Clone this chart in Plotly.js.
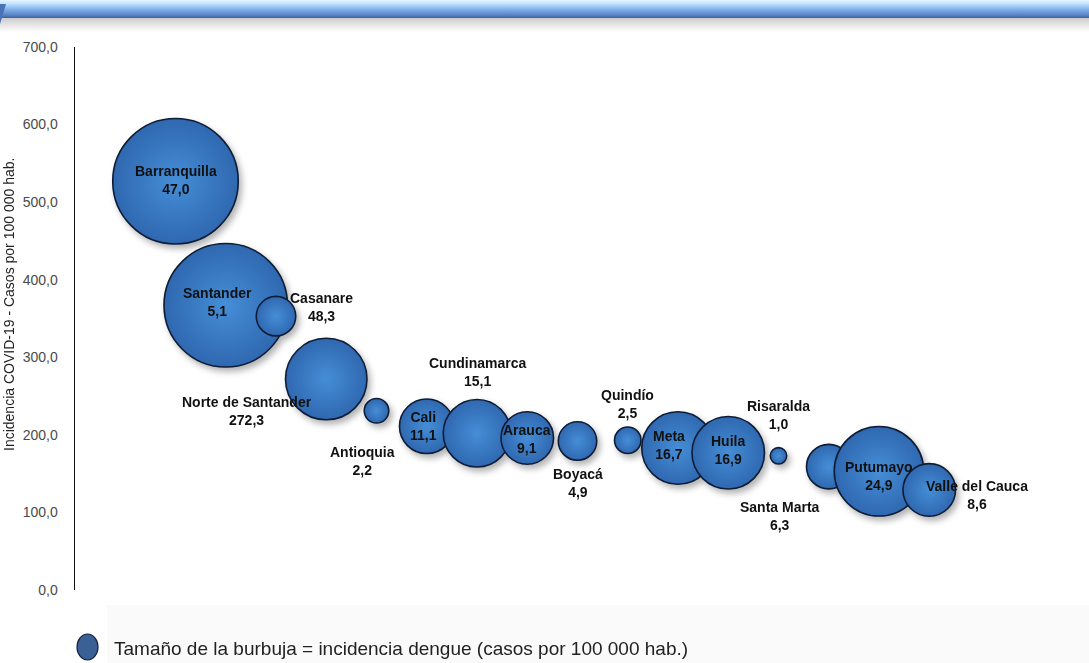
<!DOCTYPE html>
<html>
<head>
<meta charset="utf-8">
<script src="https://cdn.plot.ly/plotly-3.0.1.min.js"></script>
<style>
  html, body { margin:0; padding:0; background:#fff; }
  #wrap { position:relative; width:1089px; height:663px; overflow:hidden; }
  #graybg { position:absolute; left:107px; top:605px; width:982px; height:58px; background:#fafafa; }
  #chart { position:absolute; left:0; top:0; width:1089px; height:663px; }
  #banner { position:absolute; left:0; top:0; width:1089px; height:18px;
    background:linear-gradient(#e6f5ff 0%, #bfe1ff 22%, #8cb9ee 46%, #6d9ad9 68%, #5580c2 86%, #3d5f9a 100%); }
  #bannerShadow { position:absolute; left:0; top:18px; width:1089px; height:14px;
    background:linear-gradient(rgba(0,0,0,0.2), rgba(0,0,0,0)); }
  #notch { position:absolute; left:0; top:4px; width:0; height:0;
    border-left:6px solid #4a72b5; border-top:0 solid transparent; border-bottom:20px solid transparent; }
  .scatterlayer .trace { filter: drop-shadow(3px 4px 3px rgba(0,0,0,0.3)); }
</style>
</head>
<body>
<div id="wrap">
  <div id="graybg"></div>
  <div id="chart"></div>
  <div id="banner"></div>
  <div id="bannerShadow"></div>
  <div id="notch"></div>
</div>
<script>
// ---- Data ----
const places = ["Barranquilla","Santander","Casanare","Norte de Santander","Antioquia","Cali",
  "Cundinamarca","Arauca","Boyacá","Quindío","Meta","Huila","Risaralda","Santa Marta","Putumayo","Valle del Cauca"];
const xIndex = [1,2,3,4,5,6,7,8,9,10,11,12,13,14,15,16];
const covidIncidence = [527,367,353,272,231,211,202,196,192,193,183,177,173,159,153,129];
const bubbleSize = [157.5,152.5,15.6,66.4,6.0,29.7,45.6,27.6,14.8,7.0,52.6,52.6,2.7,19.8,80.1,27.6];
const labelValues = [47.0,5.1,48.3,272.3,2.2,11.1,15.1,9.1,4.9,2.5,16.7,16.9,1.0,6.3,24.9,8.6];
const yTicks = [0,100,200,300,400,500,600,700];

// ---- Label placement (style) ----
const labelShift = [[0,1],[-8,3],[45,9],[-79,-32],[-14,-50],[-3,0],[0,61],[0,-1],[0,-42],[0,36],
  [-9,3],[0,3],[0,41],[-49,-49],[0,-5],[48,-5]];

const fmt = v => v.toFixed(1).replace('.', ',');

const trace = {
  type:'scatter', mode:'markers',
  x:xIndex, y:covidIncidence,
  marker:{
    size:bubbleSize, sizemode:'area', sizeref:0.02,
    color:'#2f68b0',
    gradient:{type:'radial', color:'#458ed7'},
    line:{color:'#0e1c36', width:1.6}, opacity:1
  },
  hoverinfo:'skip', showlegend:false
};

const annotations = places.map((p,i)=>({
  x:xIndex[i], y:covidIncidence[i], xref:'x', yref:'y',
  text:'<b>'+p+'</b><br><b>'+fmt(labelValues[i])+'</b>', showarrow:false,
  xshift:labelShift[i][0], yshift:labelShift[i][1],
  font:{family:'Liberation Sans, Arial, sans-serif', size:14, color:'#111'},
  align:'center'
}));

annotations.push({
  xref:'paper', yref:'paper', x:(9-75)/1005, y:(590-305)/543,
  text:'Incidencia COVID-19 - Casos por 100 000 hab.', textangle:-90, showarrow:false,
  xanchor:'center', yanchor:'middle',
  font:{family:'Liberation Sans, Arial, sans-serif', size:14, color:'#222'}
});
annotations.push({
  xref:'paper', yref:'paper', x:(112-75)/1005, y:(590-648)/543,
  text:'Tamaño de la burbuja = incidencia dengue (casos por 100 000 hab.)', showarrow:false,
  xanchor:'left', yanchor:'middle',
  font:{family:'Liberation Sans, Arial, sans-serif', size:19, color:'#222'}
});

const layout = {
  width:1089, height:663,
  margin:{l:75, r:9, t:47, b:73},
  paper_bgcolor:'rgba(0,0,0,0)', plot_bgcolor:'rgba(0,0,0,0)',
  separators:', ',
  xaxis:{range:[-1,19], visible:false, fixedrange:true},
  yaxis:{range:[0,700], tickvals:yTicks, tickformat:'.1f', showgrid:false, zeroline:false,
    showline:true, linecolor:'#111', linewidth:1.5, ticks:'', ticklabelstandoff:13,
    tickfont:{family:'Liberation Sans, Arial, sans-serif', size:14, color:'#4a4a4a'}},
  annotations:annotations,
  shapes:[{type:'circle', xref:'paper', yref:'paper',
    x0:(77-75)/1005, x1:(98-75)/1005, y0:(590-660)/543, y1:(590-634)/543,
    fillcolor:'#3b6096', line:{color:'#15243f', width:1.2}}]
};

Plotly.newPlot('chart',[trace],layout,{staticPlot:true, displayModeBar:false});
</script>
</body>
</html>
